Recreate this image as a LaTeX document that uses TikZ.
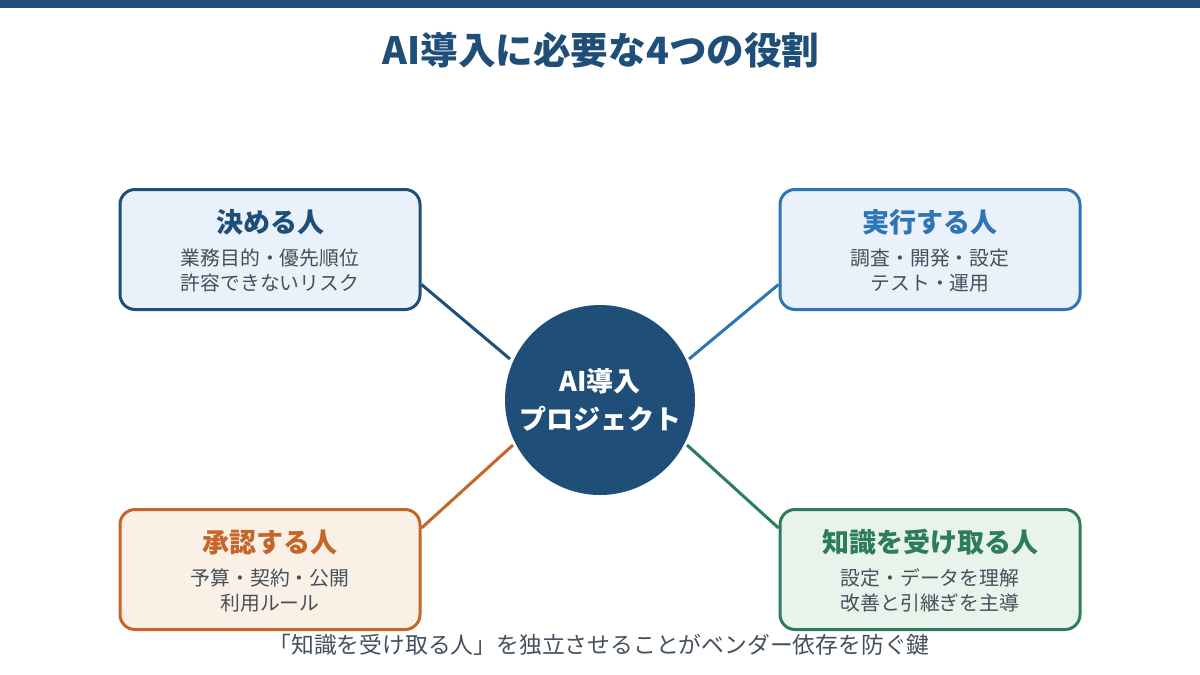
\documentclass[tikz,border=0pt]{standalone}
\usepackage{fontspec}
\setmainfont{Noto Sans CJK JP}
\usetikzlibrary{calc}
\definecolor{navy}{HTML}{1F4E79}
\definecolor{mblue}{HTML}{2E75B6}
\definecolor{orng}{HTML}{C5652A}
\definecolor{grn}{HTML}{2E7D5A}
\definecolor{fblue}{HTML}{EAF1FA}
\definecolor{forng}{HTML}{FBF0E6}
\definecolor{fgrn}{HTML}{E7F3EB}
\definecolor{subtxt}{HTML}{44505C}
\begin{document}
\begin{tikzpicture}[x=1pt,y=-1pt,
  rolebox/.style={draw=#1, line width=3pt, rounded corners=15pt, minimum width=300pt, minimum height=120pt, inner sep=0pt},
  head/.style={font=\fontsize{27}{32}\selectfont\bfseries, text=#1, inner sep=0pt},
  subline/.style={font=\fontsize{19.8}{25}\selectfont, text=subtxt, align=center, inner sep=0pt},
  link/.style={draw=#1, line width=3pt}
]
\useasboundingbox (0,0) rectangle (1200,675);
\fill[white] (0,0) rectangle (1200,675);
\fill[navy] (0,0) rectangle (1200,8);
\node[font=\fontsize{37.6}{44}\selectfont\bfseries, text=navy, inner sep=0pt] (title) at (601,50) {AI導入に必要な4つの役割};

% center
\node[circle, fill=navy, minimum size=190pt, inner sep=0pt, align=center, text=white,
  font=\fontsize{27}{38}\selectfont\bfseries] (hub) at (600,400) {AI導入\\プロジェクト};

% boxes
\node[rolebox=navy, fill=fblue] (b1) at (270,249.5) {};
\node[rolebox=mblue, fill=fblue] (b2) at (930,249.5) {};
\node[rolebox=orng, fill=forng] (b3) at (270,569.5) {};
\node[rolebox=grn, fill=fgrn] (b4) at (930,569.5) {};

\node[head=navy] (h1) at ([yshift=27pt]b1.center) {決める人};
\node[subline] (s1) at ([yshift=-21pt]b1.center) {業務目的・優先順位\\許容できないリスク};
\node[head=mblue] (h2) at ([yshift=27pt]b2.center) {実行する人};
\node[subline] (s2) at ([yshift=-21pt]b2.center) {調査・開発・設定\\テスト・運用};
\node[head=orng] (h3) at ([yshift=27pt]b3.center) {承認する人};
\node[subline] (s3) at ([yshift=-21pt]b3.center) {予算・契約・公開\\利用ルール};
\node[head=grn] (h4) at ([yshift=27pt]b4.center) {知識を受け取る人};
\node[subline] (s4) at ([yshift=-21pt]b4.center) {設定・データを理解\\改善と引継ぎを主導};

% connector ends
\coordinate (e1) at (510,359);
\coordinate (e2) at (689,359);
\coordinate (e3) at (513,445);
\coordinate (e4) at (687,445);
\draw[link=navy] ([yshift=-35pt]b1.east) -- (e1);
\draw[link=mblue] ([yshift=-35pt]b2.west) -- (e2);
\draw[link=orng] ([yshift=41.5pt]b3.east) -- (e3);
\draw[link=grn] ([yshift=41.5pt]b4.west) -- (e4);

\node[font=\fontsize{22.8}{27}\selectfont, text=subtxt, inner sep=0pt] (cap) at (599,645) {「知識を受け取る人」を独立させることがベンダー依存を防ぐ鍵};
\end{tikzpicture}
\end{document}
